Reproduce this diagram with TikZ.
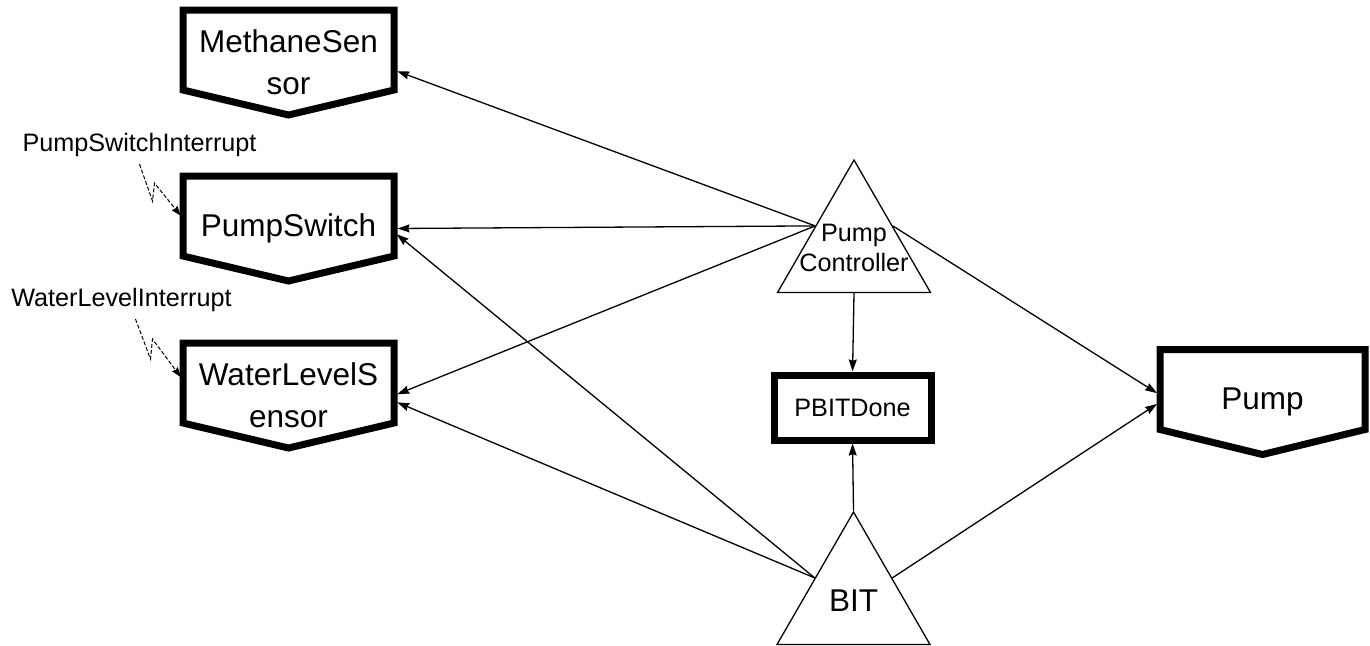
\documentclass[tikz,border=0pt]{standalone}
\usepackage{fontspec}
\setmainfont{Liberation Sans}
\usetikzlibrary{arrows.meta,shapes.geometric}

\begin{document}
\begin{tikzpicture}[->,>={Stealth[length=6pt,width=4pt,inset=0.6pt]},
    shorten >=1.75pt,x=0.5pt,y=-0.5pt,line width=0.65pt,
    sensor/.style={rectangle,minimum width=105.5pt,minimum height=52.5pt,
      inner sep=0pt,outer sep=0pt,align=center,
      font=\fontsize{15.75}{21}\selectfont},
    task/.style={regular polygon,regular polygon sides=3,draw,
      minimum size=88.3pt,inner sep=0pt},
    flagbox/.style={rectangle,draw,line width=3.5pt,outer sep=0pt,
      minimum width=78.5pt,minimum height=32.5pt,
      font=\fontsize{12.6}{15}\selectfont},
    small/.style={font=\fontsize{12.6}{15}\selectfont,align=center},
    intr/.style={dash pattern=on 2pt off 1pt,line width=0.5pt,
      >={Stealth[length=5pt,width=3.5pt,inset=0.5pt]}}]
  \useasboundingbox (0,0) rectangle (1370,645);

  \node[sensor] (ms) at (288.5,62.5) {MethaneSen\\sor};
  \node[sensor] (ps) at (288.5,228.5) {PumpSwitch};
  \node[sensor] (wls) at (288.5,395.5) {WaterLevelS\\ensor};
  \node[sensor,minimum width=102.5pt] (pump) at (1262.5,402) {Pump};
  \node[flagbox] (pbit) at (852.5,407.5) {PBITDone};
  \node[task,label={[small]center:Pump\\Controller}] (pc) at (854,248.3) {};
  \node[task,label={[font=\fontsize{15.75}{21}\selectfont]center:BIT}] (bit) at (853.5,600.3) {};
  \node[small] (psi) at (139.5,145) {PumpSwitchInterrupt};
  \node[small] (wli) at (121.5,300) {WaterLevelInterrupt};

  % sensor / actuator outlines
  \foreach \n in {ms,ps,wls,pump}
    \draw[-,line width=3.5pt] (\n.north west) -- (\n.north east)
      -- ([yshift=12.5pt]\n.south east) -- (\n.south)
      -- ([yshift=12.5pt]\n.south west) -- cycle;

  \path (pc.side 1) edge ([yshift=-3.75pt]ms.east)
        edge (ps.east)
        edge (wls.east)
    (pc.side 3) edge ([yshift=3.5pt]pump.west)
    (pc.side 2) edge (pbit.north)
    (bit.side 1) edge ([yshift=-1.75pt]ps.east)
        edge ([yshift=-2.75pt]wls.east)
    (bit.side 3) edge (pump.west)
    (bit.corner 1) edge (pbit.south);

  % interrupts
  \draw[intr] (psi.south) -- ++(13,37) -- ++(2,-18) -- ([yshift=5pt]ps.west);
  \draw[intr] ([xshift=7pt]wli.south) -- ++(15,40) -- ++(2,-20) -- ([yshift=7.75pt]wls.west);
\end{tikzpicture}
\end{document}
